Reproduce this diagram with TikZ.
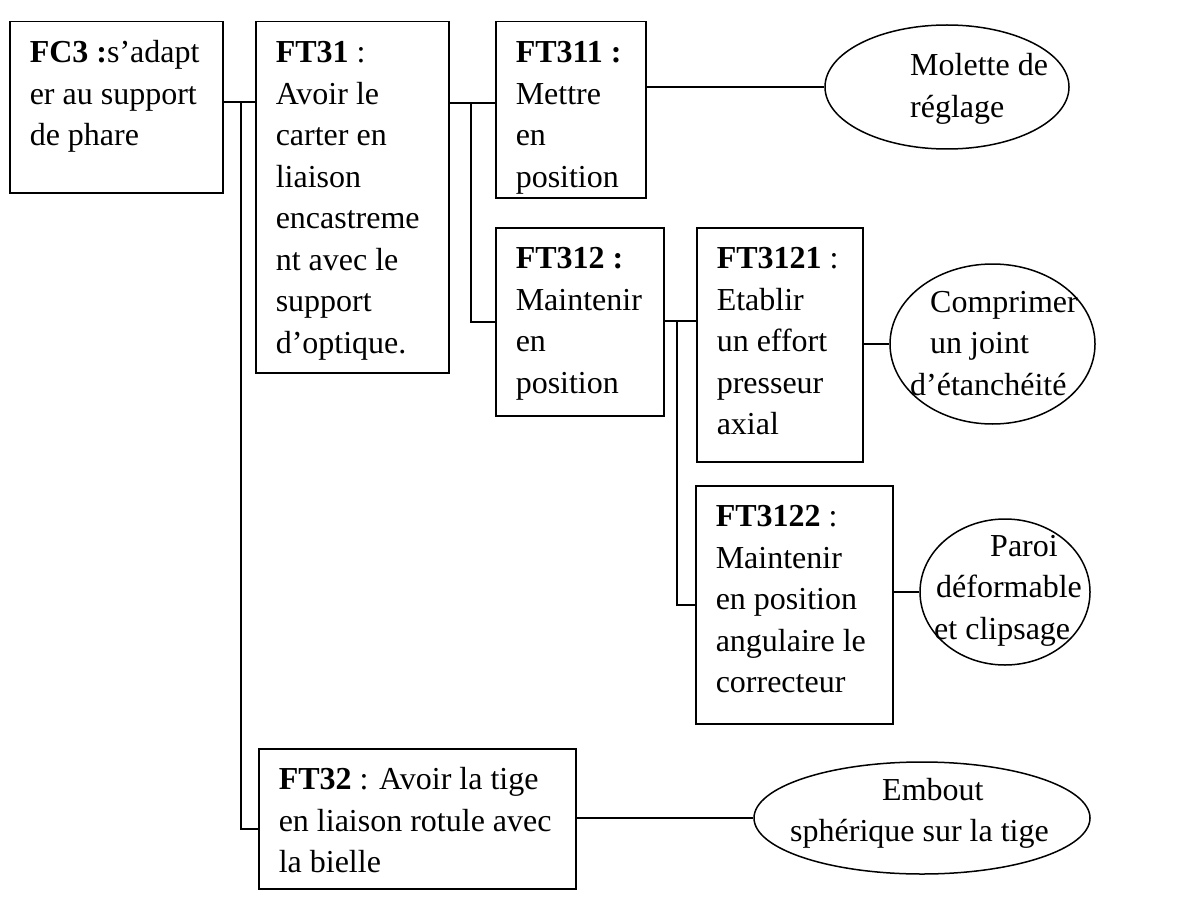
\documentclass[tikz,border=0pt]{standalone}
\usepackage{fontspec}
\setmainfont{Liberation Serif}
\usetikzlibrary{shapes.geometric}
\newcommand{\bxt}[3]{\parbox[t][#2][t]{#1}{\raggedright\vspace*{12pt}\strut #3}}
\newcommand{\elt}[1]{\parbox[t]{330pt}{\raggedright #1}}
\begin{document}
\begin{tikzpicture}[x=1pt,y=-1pt,
  every node/.style={font=\fontsize{32}{41.5}\selectfont},
  fbox/.style={draw, line width=1.5pt, inner xsep=20pt, inner ysep=0pt, anchor=north west},
  ell/.style={draw, ellipse, line width=1.5pt, inner sep=0pt},
  etxt/.style={inner sep=0pt, anchor=base west},
  conn/.style={line width=1.5pt}]
\useasboundingbox[fill=white] (0,0) rectangle (1182,896);
% boxes
\node[fbox] (fc3) at (9,21) {\bxt{173pt}{171pt}{\textbf{FC3 :}s’adapt\\er au support\\de phare}};
\node[fbox] (ft31) at (255,21) {\bxt{153pt}{351pt}{\textbf{FT31} :\\Avoir le\\carter en\\liaison\\encastreme\\nt avec le\\support\\d’optique.}};
\node[fbox] (ft311) at (495,21) {\bxt{110pt}{176pt}{\textbf{FT311 :}\\Mettre\\en\\position}};
\node[fbox] (ft312) at (495,227) {\bxt{128pt}{188pt}{\textbf{FT312 :}\\Maintenir\\en\\position}};
\node[fbox] (ft3121) at (696,227) {\bxt{126pt}{234pt}{\textbf{FT3121} :\\Etablir\\un effort\\presseur\\axial}};
\node[fbox] (ft3122) at (695,485) {\bxt{157pt}{238pt}{\textbf{FT3122} :\\Maintenir\\en position\\angulaire le\\correcteur}};
\node[fbox] (ft32) at (258,748) {\bxt{277pt}{140pt}{\textbf{FT32} : Avoir la tige\\en liaison rotule avec\\la bielle}};
% ellipses
\node[ell, minimum width=244pt, minimum height=124pt] (e1) at (947,87) {};
\node[ell, minimum width=205pt, minimum height=160pt] (e2) at (992.5,344) {};
\node[ell, minimum width=170pt, minimum height=146pt] (e3) at (1005,592) {};
\node[ell, minimum width=336pt, minimum height=112pt] (e4) at (922,818) {};
\node[etxt] (t1) at (910,76) {\elt{Molette de\\réglage}};
\node[etxt] (t2) at (930,312) {\elt{Comprimer\\un joint\\\hspace*{-20pt}d’étanchéité}};
\node[etxt] (t3) at (990,556) {\elt{Paroi\\\hspace*{-54pt}déformable\\\hspace*{-56pt}et clipsage}};
\node[etxt] (t4) at (882,800) {\elt{Embout\\\hspace*{-92pt}sphérique sur la tige}};
% connectors
\coordinate (j1) at (241,102);
\coordinate (j2) at (241,829);
\coordinate (k1) at (471,103);
\coordinate (m1) at (677,321);
\draw[conn] (fc3.east |- j1) -- (ft31.west |- j1);
\draw[conn] (j1) -- (j2) -- (j2 -| ft32.west);
\draw[conn] (ft31.east |- k1) -- (ft311.west |- k1);
\draw[conn] (k1) |- (ft312.west);
\draw[conn] (ft311.east |- e1.west) -- (e1.west);
\draw[conn] (ft312.east |- m1) -- (ft3121.west |- m1);
\draw[conn] (m1) |- (ft3122.west);
\draw[conn] (ft3121.east |- e2.west) -- (e2.west);
\draw[conn] (ft3122.east |- e3.west) -- (e3.west);
\draw[conn] (ft32.east |- e4.west) -- (e4.west);
\end{tikzpicture}
\end{document}
